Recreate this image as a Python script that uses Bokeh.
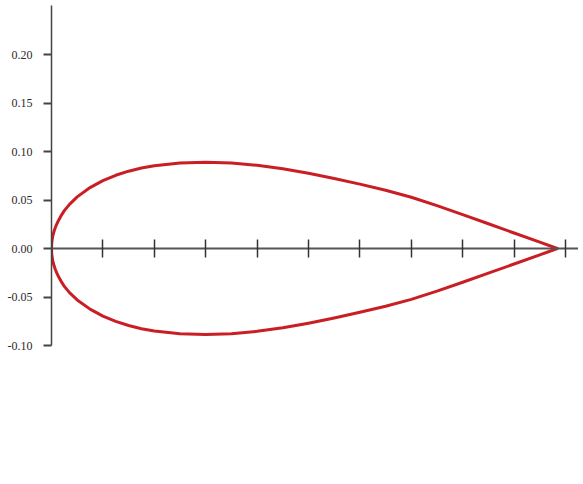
from bokeh.plotting import figure
from bokeh.models import LinearAxis, FixedTicker, Range1d, NumeralTickFormatter
from bokeh.embed import file_html
from bokeh.resources import INLINE

# Airfoil outline (chord fraction, thickness)
x_upper = [0.0, 0.0005, 0.002, 0.0025, 0.005, 0.0075, 0.01, 0.0125, 0.02, 0.025, 0.035,
           0.05, 0.075, 0.1, 0.125, 0.15, 0.175, 0.2, 0.25, 0.3, 0.35, 0.4, 0.45, 0.5,
           0.55, 0.6, 0.65, 0.7, 0.75, 0.8, 0.85, 0.9, 0.95, 0.984]
y_upper = [0.0, 0.0058, 0.0115, 0.0128, 0.0178, 0.0216, 0.0248, 0.0278, 0.0350, 0.0390, 0.0455,
           0.0532, 0.0628, 0.0700, 0.0755, 0.0797, 0.0830, 0.0854, 0.0881, 0.0890, 0.0882,
           0.0858, 0.0822, 0.0776, 0.0722, 0.0664, 0.0600, 0.0528, 0.0442, 0.0350, 0.0255,
           0.0160, 0.0066, 0.0]
x_lower = [0.0, 0.0005, 0.002, 0.0025, 0.005, 0.0075, 0.01, 0.0125, 0.02, 0.025, 0.035,
           0.05, 0.075, 0.1, 0.125, 0.15, 0.175, 0.2, 0.25, 0.3, 0.35, 0.4, 0.45, 0.5,
           0.55, 0.6, 0.65, 0.7, 0.75, 0.8, 0.85, 0.9, 0.95, 0.984]
y_lower = [0.0, -0.0058, -0.0115, -0.0128, -0.0178, -0.0216, -0.0248, -0.0278, -0.0350, -0.0390,
           -0.0455, -0.0530, -0.0625, -0.0697, -0.0752, -0.0794, -0.0827, -0.0851, -0.0878,
           -0.0887, -0.0879, -0.0854, -0.0818, -0.0770, -0.0716, -0.0658, -0.0595, -0.0524,
           -0.0440, -0.0348, -0.0254, -0.0160, -0.0066, 0.0]

y_ticks = [-0.10, -0.05, 0.0, 0.05, 0.10, 0.15, 0.20]
x_ticks = [0.0, 0.1, 0.2, 0.3, 0.4, 0.5, 0.6, 0.7, 0.8, 0.9, 1.0]

x_outline = x_upper + x_lower[::-1]
y_outline = y_upper + y_lower[::-1]

frame_w = 527
frame_h = 470
p = figure(output_backend="svg", toolbar_location=None,
           frame_width=frame_w, frame_height=frame_h,
           min_border_left=51, min_border_right=0, min_border_top=5, min_border_bottom=0,
           x_range=Range1d(0, frame_w / 514.0),
           y_range=Range1d(-(frame_h - 243) / 970.0, 243 / 970.0),
           x_axis_location=None, y_axis_location=None)
p.outline_line_color = None
p.xgrid.visible = False
p.ygrid.visible = False
p.background_fill_color = "white"
p.border_fill_color = "white"

yaxis = LinearAxis(ticker=FixedTicker(ticks=y_ticks), bounds=(-0.10, 0.26),
                   formatter=NumeralTickFormatter(format="0.00"))
yaxis.axis_line_color = "#444444"
yaxis.axis_line_width = 1.5
yaxis.major_tick_line_color = "#444444"
yaxis.major_tick_line_width = 2
yaxis.major_tick_out = 8
yaxis.major_tick_in = 0
yaxis.minor_tick_line_color = None
yaxis.major_label_standoff = 11
yaxis.major_label_text_font = "Liberation Serif"
yaxis.major_label_text_font_size = "12px"
yaxis.major_label_text_color = "#2a2a2a"
p.add_layout(yaxis, "left")

xaxis = LinearAxis(ticker=FixedTicker(ticks=x_ticks), fixed_location=0)
xaxis.axis_line_color = "#555555"
xaxis.axis_line_width = 2
xaxis.major_tick_line_color = "#333333"
xaxis.major_tick_line_width = 1.5
xaxis.major_tick_out = 9
xaxis.major_tick_in = 9
xaxis.minor_tick_line_color = None
xaxis.major_label_text_font_size = "0px"
xaxis.major_label_text_alpha = 0
p.add_layout(xaxis, "below")

p.line(x_outline, y_outline, line_color="#c81e24", line_width=3, line_join="round")

open("out.html", "w").write(file_html(p, INLINE))
